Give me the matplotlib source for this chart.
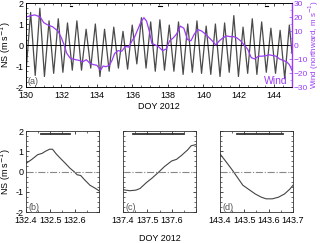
import numpy as np
import matplotlib
matplotlib.use('Agg')
import matplotlib.pyplot as plt
from matplotlib.ticker import MultipleLocator

# ---- panel (a): NS velocity extrema (day, value) and northward wind
peak_day = [130.26, 130.78, 131.30, 131.82, 132.34, 132.87, 133.39, 133.91, 134.43, 134.95,
            135.47, 135.99, 136.51, 137.03, 137.55, 138.08, 138.60, 139.12, 139.64, 140.16,
            140.68, 141.20, 141.72, 142.24, 142.76, 143.29, 143.81, 144.33, 144.85]
peak_val = [1.55, 1.75, 1.15, 1.25, 1.05, 1.15, 0.75, 1.0, 0.75, 0.85,
            0.65, 0.95, 1.3, 1.1, 1.2, 0.95, 1.1, 1.0, 1.15, 0.9,
            1.0, 1.05, 1.4, 0.85, 1.25, 1.1, 0.8, 0.7, 0.95]
trough_day = [130.00, 130.52, 131.04, 131.56, 132.08, 132.61, 133.13, 133.65, 134.17, 134.69,
              135.21, 135.73, 136.25, 136.77, 137.29, 137.81, 138.34, 138.86, 139.38, 139.90,
              140.42, 140.94, 141.46, 141.98, 142.50, 143.02, 143.55, 144.07, 144.59, 145.00]
trough_val = [-1.3, -1.45, -1.5, -1.35, -1.3, -1.2, -1.2, -1.1, -1.5, -1.25,
              -1.1, -1.15, -0.9, -1.1, -1.25, -1.2, -1.25, -1.4, -1.3, -1.35,
              -1.4, -1.5, -1.3, -1.5, -1.35, -1.4, -1.3, -1.35, -1.6, -0.4]

wind_day = [130.0, 130.3, 130.5, 130.8, 131.0, 131.2, 131.5, 131.8, 132.0, 132.15,
            132.3, 132.5, 132.8, 133.0, 133.2, 133.4, 133.6, 133.8, 134.0, 134.2,
            134.35, 134.5, 134.7, 134.85, 135.0, 135.2, 135.4, 135.6, 135.8, 136.0,
            136.1, 136.3, 136.5, 136.65, 136.8, 136.95, 137.1, 137.3, 137.5, 137.7,
            137.9, 138.1, 138.3, 138.5, 138.7, 138.9, 139.1, 139.3, 139.5, 139.7,
            139.9, 140.1, 140.3, 140.5, 140.7, 140.9, 141.1, 141.3, 141.5, 141.7,
            141.9, 142.1, 142.3, 142.5, 142.7, 142.9, 143.1, 143.3, 143.5, 143.7,
            143.9, 144.1, 144.3, 144.5, 144.7, 144.85, 145.0]
wind_val = [20, 21, 21.5, 20, 16, 14.5, 13, 10, 5, 0,
            -6, -9.5, -10.5, -11, -12, -10.5, -13, -14, -14.5, -18,
            -15, -15.5, -14.5, -11, -6, -4, -4.5, -1, -1.5, 3.5,
            5, 11, 17, 19.5, 17, 10, 1, 0, -1.5, -4,
            -3, 3, 5, 8, 13.5, 12, 4, 3, 8, 11,
            10, 8, 5.5, 3, 0, 3, 5, 6.5, 6, 6,
            5, 3, 0, -3, -9, -10, -8, -8, -7.7, -7,
            -7.5, -8, -10, -11, -12, -14, -18]

# zoom windows (b), (c), (d)
zoom_lim = [(132.4, 132.7), (137.4, 137.7), (143.4, 143.7)]
zoom_bar = [(132.46, 132.58), (137.44, 137.65), (143.47, 143.66)]
zoom_tag = ['(b)', '(c)', '(d)']
zoom_day = [
    [132.40, 132.423, 132.448, 132.467, 132.48, 132.497, 132.509, 132.524, 132.543, 132.562,
     132.581, 132.597, 132.61, 132.625, 132.64, 132.663, 132.686, 132.70],
    [137.40, 137.428, 137.453, 137.47, 137.495, 137.52, 137.545, 137.57, 137.60, 137.62,
     137.64, 137.665, 137.68, 137.70],
    [143.40, 143.425, 143.45, 143.476, 143.494, 143.52, 143.545, 143.57, 143.59, 143.615,
     143.64, 143.665, 143.687, 143.70],
]
zoom_val = [
    [0.4, 0.59, 0.83, 0.9, 1.0, 1.1, 1.1, 0.87, 0.63, 0.4,
     0.16, 0.0, -0.16, -0.2, -0.4, -0.68, -0.84, -0.95],
    [-0.9, -0.95, -0.92, -0.84, -0.56, -0.32, -0.05, 0.24, 0.52, 0.6,
     0.79, 1.06, 1.27, 1.33],
    [0.87, 0.48, 0.08, -0.37, -0.68, -0.9, -1.11, -1.27, -1.35, -1.35,
     -1.27, -1.11, -0.87, -0.68],
]

purple = '#9b3cf5'
fs = 6.5
plt.rcParams['font.family'] = 'Liberation Sans'
plt.rcParams['font.size'] = fs

fig = plt.figure(figsize=(3.2, 2.43), dpi=100)
fig.patch.set_facecolor('white')

def style(ax):
    ax.tick_params(which='both', direction='in', top=True, right=True, labelsize=fs, pad=2)
    ax.tick_params(axis='x', pad=3)
    ax.tick_params(which='major', length=2.5, width=0.5)
    ax.tick_params(which='minor', length=1.2, width=0.4)
    for s in ax.spines.values():
        s.set_linewidth(0.6)
        s.set_color('#333333')

# ---- top panel
ax = fig.add_axes([26/320, 1-87/243, 266/320, 84/243])
order = np.argsort(peak_day + trough_day)
ns_day = np.array(peak_day + trough_day)[order]
ns_val = np.array(peak_val + trough_val)[order]
ax.plot(ns_day, ns_val, color='#4a4a4a', lw=0.9)
ax.axhline(0, color='black', lw=0.7)
for lo, hi in zoom_bar:
    ax.plot([lo, hi], [1.88, 1.88], color='black', lw=0.8)
ax.set_xlim(130, 145)
ax.set_ylim(-2, 2)
ax.set_xticks([130, 132, 134, 136, 138, 140, 142, 144])
ax.set_yticks([-2, -1, 0, 1, 2])
ax.set_yticklabels(['-2', '-1', '0', '1', '2'])
ax.xaxis.set_minor_locator(MultipleLocator(0.5))
ax.yaxis.set_minor_locator(MultipleLocator(0.25))
style(ax)
ax.tick_params(right=False, which='both')
ax.set_ylabel('NS (m s$^{-1}$)', fontsize=fs, labelpad=1.5)
ax.set_xlabel('DOY 2012', fontsize=fs, labelpad=1)
ax.text(0.004, 0.03, '(a)', transform=ax.transAxes, color='#555555', fontsize=fs)

ax2 = ax.twinx()
ax2.plot(wind_day, wind_val, color=purple, lw=0.9)
ax2.set_ylim(-30, 30)
ax2.set_yticks([-30, -20, -10, 0, 10, 20, 30])
ax2.yaxis.set_minor_locator(MultipleLocator(5))
ax2.tick_params(which='both', direction='in', colors=purple, labelsize=6, pad=1)
ax2.tick_params(which='major', length=2.5, width=0.5)
ax2.tick_params(which='minor', length=1.2, width=0.4)
for s in ax2.spines.values():
    s.set_linewidth(0.6)
ax2.spines['right'].set_color(purple)
ax2.spines['right'].set_linewidth(1.0)
fig.text(314/320, 1-45/243, 'Wind (northward, m s$^{-1}$)', color=purple, fontsize=5.8,
         rotation=90, ha='center', va='center')
ax2.text(0.985, 0.04, 'Wind', transform=ax2.transAxes, color=purple, fontsize=fs + 1,
         ha='right')

# ---- bottom panels
lefts = [26, 123, 220]
for i in range(3):
    bx = fig.add_axes([lefts[i]/320, 1-212/243, 73/320, 81/243])
    bx.plot(zoom_day[i], zoom_val[i], color='#444444', lw=0.8)
    bx.axhline(0, color='#888888', lw=0.8, ls='-.')
    bx.plot(zoom_bar[i], [1.85, 1.85], color='#333333', lw=1.3)
    bx.set_xlim(*zoom_lim[i])
    bx.set_ylim(-2, 2)
    lo = zoom_lim[i][0]
    ticks = [round(lo + 0.1*k, 1) for k in range(4)]
    bx.set_xticks(ticks)
    if i < 2:
        bx.set_xticklabels([str(t) for t in ticks[:3]] + [''])
    else:
        bx.set_xticklabels([str(t) for t in ticks])
    bx.set_yticks([-2, -1, 0, 1, 2])
    bx.yaxis.set_minor_locator(MultipleLocator(0.25))
    bx.xaxis.set_minor_locator(MultipleLocator(0.05))
    style(bx)
    if i == 0:
        bx.set_yticklabels(['-2', '-1', '0', '1', '2'])
        bx.set_ylabel('NS (m s$^{-1}$)', fontsize=fs, labelpad=1.5)
    else:
        bx.set_yticklabels([])
    if i == 1:
        bx.set_xlabel('DOY 2012', fontsize=fs, labelpad=6)
    bx.text(0.04, 0.03, zoom_tag[i], transform=bx.transAxes, color='#555555', fontsize=fs)

fig.savefig('out.png', dpi=100)
